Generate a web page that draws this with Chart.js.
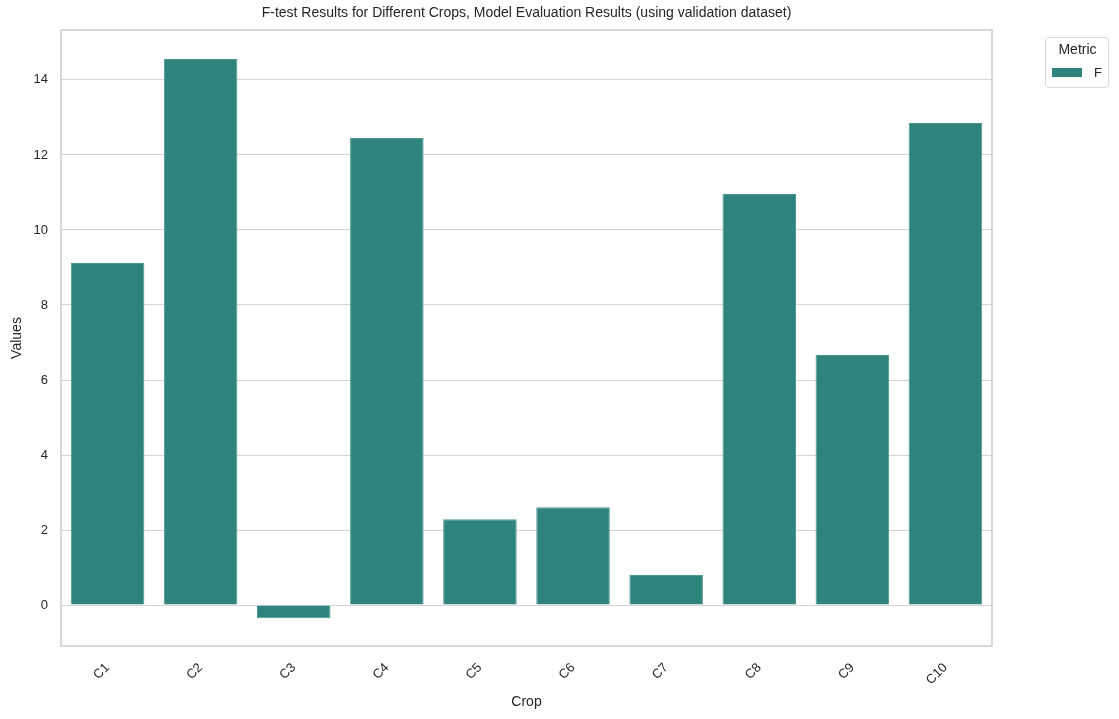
<!DOCTYPE html>
<html lang="en">
<head>
  <meta charset="UTF-8">
  <title>F-test Results</title>
  <script src="https://cdn.jsdelivr.net/npm/chart.js"></script>
  <style>
    html, body { margin: 0; padding: 0; background: #fff; }
    #wrap { width: 1119px; height: 719px; position: relative; }
  </style>
</head>
<body>
  <div id="wrap"><canvas id="fChart"></canvas></div>

  <script>
    // --- DATA ---
    const crops = ['C1', 'C2', 'C3', 'C4', 'C5', 'C6', 'C7', 'C8', 'C9', 'C10'];
    const fValues = [9.12, 14.56, -0.35, 12.45, 2.29, 2.61, 0.80, 10.96, 6.67, 12.85];
    const yTicks = [0, 2, 4, 6, 8, 10, 12, 14];
    const seriesName = 'F';

    const barColor = '#2e837c';
    const fontFam = '"Liberation Sans", Arial, sans-serif';

    // title, plot frame and legend drawn by hand so they sit where seaborn put them
    const decorations = {
      id: 'decorations',
      beforeDatasetsDraw(chart) {
        const { ctx, chartArea: a } = chart;
        ctx.save();
        ctx.strokeStyle = '#cccccc';
        ctx.lineWidth = 1.5;
        ctx.strokeRect(a.left, a.top, a.right - a.left, a.bottom - a.top);
        ctx.restore();
      },
      afterDraw(chart) {
        const { ctx, chartArea: a } = chart;
        ctx.save();
        ctx.fillStyle = '#262626';
        ctx.font = '14px ' + fontFam;
        ctx.textAlign = 'center';
        ctx.textBaseline = 'middle';
        ctx.fillText('F-test Results for Different Crops, Model Evaluation Results (using validation dataset)', (a.left + a.right) / 2, 13);

        // legend box
        const bx = 1045, by = 37, bw = 63, bh = 50;
        ctx.strokeStyle = '#d8d8d8';
        ctx.lineWidth = 1;
        ctx.beginPath();
        ctx.roundRect(bx + 0.5, by + 0.5, bw, bh, 3);
        ctx.stroke();
        ctx.fillStyle = '#262626';
        ctx.font = '14px ' + fontFam;
        ctx.fillText('Metric', bx + bw / 2 + 1, by + 13);
        ctx.fillStyle = barColor;
        ctx.fillRect(1052, 68, 30, 9);
        ctx.fillStyle = '#262626';
        ctx.font = '13px ' + fontFam;
        ctx.textAlign = 'left';
        ctx.fillText(seriesName, 1094, 73);
        ctx.restore();
      }
    };

    new Chart(document.getElementById('fChart'), {
      type: 'bar',
      data: {
        labels: crops,
        datasets: [{
          label: seriesName,
          data: fValues,
          backgroundColor: barColor,
          borderColor: '#4f9790',
          borderWidth: 1,
          categoryPercentage: 1.0,
          barPercentage: 0.79
        }]
      },
      options: {
        responsive: true,
        maintainAspectRatio: false,
        animation: false,
        layout: { padding: { top: 30, right: 127, left: 0, bottom: 0 } },
        plugins: {
          legend: { display: false },
          title: { display: false },
          tooltip: { enabled: false }
        },
        scales: {
          x: {
            grid: { display: false, drawTicks: false },
            border: { display: false },
            ticks: {
              color: '#262626',
              font: { family: fontFam, size: 13 },
              minRotation: 45,
              maxRotation: 45,
              padding: 14
            },
            title: {
              display: true,
              text: 'Crop',
              color: '#262626',
              font: { family: fontFam, size: 14 },
              padding: { top: 0, bottom: 8 }
            },
            afterFit(scale) { scale.height = 73; }
          },
          y: {
            min: -1.09,
            max: 15.33,
            grid: { color: '#d4d4d4', lineWidth: 1, drawTicks: false },
            border: { display: false },
            ticks: {
              color: '#262626',
              font: { family: fontFam, size: 13 },
              padding: 13
            },
            title: {
              display: true,
              text: 'Values',
              color: '#262626',
              font: { family: fontFam, size: 14 },
              padding: { top: 9, bottom: 0 }
            },
            afterBuildTicks(scale) { scale.ticks = yTicks.map(v => ({ value: v })); },
            afterFit(scale) { scale.width = 61; }
          }
        }
      },
      plugins: [decorations]
    });
  </script>
</body>
</html>
